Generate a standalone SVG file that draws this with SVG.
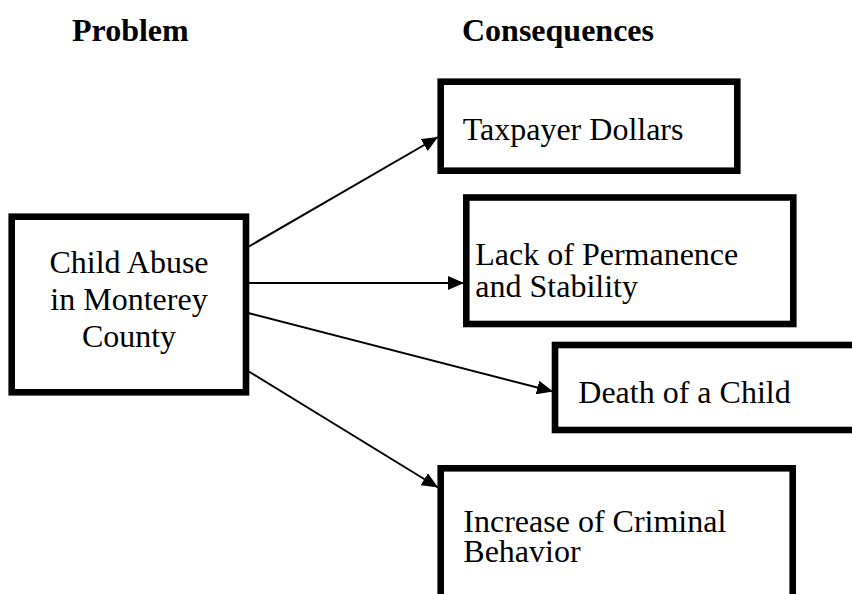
<svg xmlns="http://www.w3.org/2000/svg" width="852" height="594" viewBox="0 0 852 594">
<style>
text{font-family:"Liberation Serif","Times New Roman",serif;font-size:32px;fill:#000}
.h{font-weight:bold}
.box{fill:#fff;stroke:#000;stroke-width:6.6}
.con{stroke:#000;stroke-width:2;fill:none;marker-end:url(#ah)}
</style>
<defs>
<marker id="ah" markerUnits="userSpaceOnUse" markerWidth="17" markerHeight="14" refX="16" refY="7" orient="auto">
<path d="M0,0 L16,7 L0,14 z" fill="#000"/>
</marker>
</defs>
<rect width="852" height="594" fill="#fff"/>
<g id="headers">
<text class="h" x="72" y="41">Problem</text>
<text class="h" x="462" y="41">Consequences</text>
</g>
<g id="connectors">
<line class="con" x1="248" y1="247" x2="438" y2="137"/>
<line class="con" x1="248" y1="283" x2="464" y2="283"/>
<line class="con" x1="248" y1="313" x2="553" y2="391.5"/>
<line class="con" x1="248" y1="371" x2="438" y2="487.5"/>
</g>
<g id="problem">
<rect class="box" x="11.7" y="216.7" width="234.3" height="175.6"/>
<text x="129" y="272.7" text-anchor="middle">Child Abuse</text>
<text x="129" y="310" text-anchor="middle">in Monterey</text>
<text x="129" y="346.7" text-anchor="middle">County</text>
</g>
<g id="taxpayer">
<rect class="box" x="440.7" y="81.7" width="296.6" height="89"/>
<text x="462.7" y="140">Taxpayer Dollars</text>
</g>
<g id="permanence">
<rect class="box" x="466.3" y="197.5" width="327" height="126.5"/>
<text x="475.3" y="265">Lack of Permanence</text>
<text x="475.3" y="296.7">and Stability</text>
</g>
<g id="death">
<rect class="box" x="555" y="345" width="310" height="85"/>
<text x="578.3" y="403.3">Death of a Child</text>
</g>
<g id="criminal">
<rect class="box" x="440.7" y="468.3" width="352" height="140"/>
<text x="463.3" y="531.7">Increase of Criminal</text>
<text x="463.3" y="561.7">Behavior</text>
</g>
</svg>
